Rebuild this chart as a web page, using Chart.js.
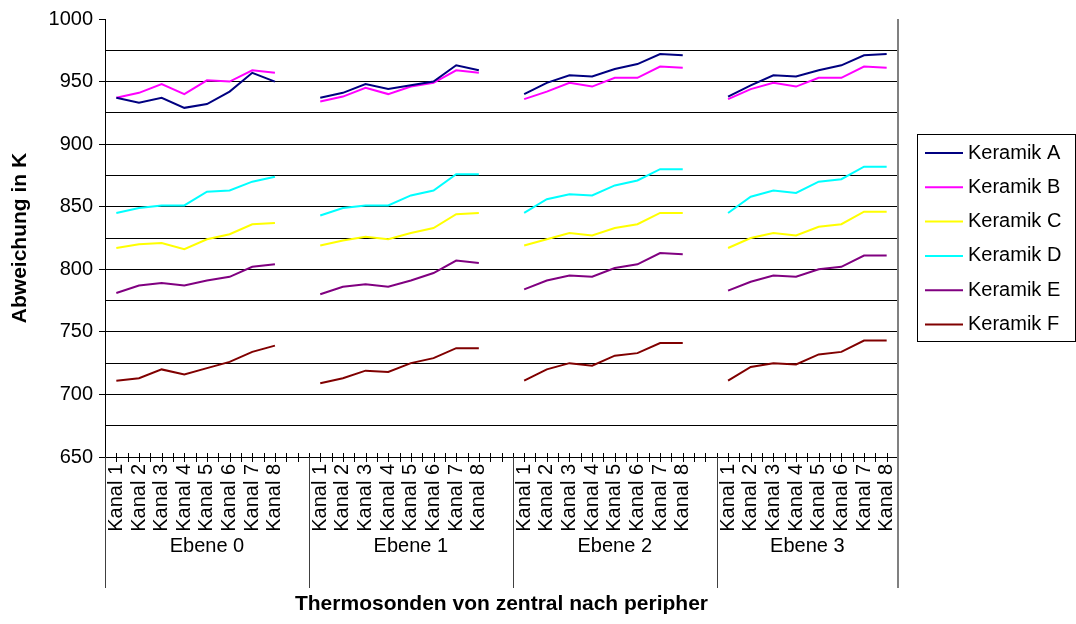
<!DOCTYPE html>
<html>
<head>
<meta charset="utf-8">
<script src="https://cdn.jsdelivr.net/npm/chart.js@4/dist/chart.umd.min.js"></script>
<style>
	body { margin: 0; background: #fff; }
	canvas { display: block; }
</style>
</head>
<body>
<canvas id="canvas" width="1076" height="624"></canvas>
<script>
var groups = ['Ebene 0', 'Ebene 1', 'Ebene 2', 'Ebene 3'];
var channels = ['Kanal 1', 'Kanal 2', 'Kanal 3', 'Kanal 4', 'Kanal 5', 'Kanal 6', 'Kanal 7', 'Kanal 8'];
var yTicks = [650, 700, 750, 800, 850, 900, 950, 1000];

// 8 values per Ebene, Ebene 0..3
var keramikA = [937, 933, 937, 929, 932, 942, 957, 950,
	937, 941, 948, 944, 947, 950, 963, 959,
	940, 949, 955, 954, 960, 964, 972, 971,
	938, 947, 955, 954, 959, 963, 971, 972];
var keramikB = [937, 941, 948, 940, 951, 950, 959, 957,
	934, 938, 945, 940, 946, 949, 959, 957,
	936, 942, 949, 946, 953, 953, 962, 961,
	936, 944, 949, 946, 953, 953, 962, 961];
var keramikC = [817, 820, 821, 816, 824, 828, 836, 837,
	819, 823, 826, 824, 829, 833, 844, 845,
	819, 824, 829, 827, 833, 836, 845, 845,
	817, 825, 829, 827, 834, 836, 846, 846];
var keramikD = [845, 849, 851, 851, 862, 863, 870, 874,
	843, 849, 851, 851, 859, 863, 876, 876,
	845, 856, 860, 859, 867, 871, 880, 880,
	845, 858, 863, 861, 870, 872, 882, 882];
var keramikE = [781, 787, 789, 787, 791, 794, 802, 804,
	780, 786, 788, 786, 791, 797, 807, 805,
	784, 791, 795, 794, 801, 804, 813, 812,
	783, 790, 795, 794, 800, 802, 811, 811];
var keramikF = [711, 713, 720, 716, 721, 726, 734, 739,
	709, 713, 719, 718, 725, 729, 737, 737,
	711, 720, 725, 723, 731, 733, 741, 741,
	711, 722, 725, 724, 732, 734, 743, 743];

var seriesNames = ['Keramik A', 'Keramik B', 'Keramik C', 'Keramik D', 'Keramik E', 'Keramik F'];
var seriesColors = ['#000080', '#ff00ff', '#ffff00', '#00ffff', '#800080', '#800000'];

// one empty slot between the Ebenen, like the excel sheet
var labels = [];
var groupStart = [];
for (var g = 0; g < groups.length; g++) {
	groupStart.push(labels.length);
	for (var c = 0; c < channels.length; c++) labels.push(channels[c]);
	if (g < groups.length - 1) labels.push('');
}
groupStart.push(labels.length);

function spread(values) {
	var out = [];
	for (var g = 0; g < groups.length; g++) {
		for (var c = 0; c < channels.length; c++) out.push(values[g * channels.length + c]);
		if (g < groups.length - 1) out.push(null);
	}
	return out;
}

var allValues = [keramikA, keramikB, keramikC, keramikD, keramikE, keramikF];
var datasets = [];
for (var i = 0; i < seriesNames.length; i++) {
	datasets.push({
		label: seriesNames[i],
		data: spread(allValues[i]),
		borderColor: seriesColors[i],
		backgroundColor: seriesColors[i],
		borderWidth: 2,
		pointRadius: 0,
		tension: 0,
		spanGaps: false
	});
}

var font = 'Liberation Sans, Arial, sans-serif';

var axisDeco = {
	id: 'axisDeco',
	afterDraw: function(chart) {
		var ctx = chart.ctx;
		var a = chart.chartArea;
		var xs = chart.scales.x;
		var slot = xs.getPixelForValue(1) - xs.getPixelForValue(0);
		var bottomLine = 588;
		ctx.save();

		// tick marks crossing the x axis
		ctx.strokeStyle = '#000';
		ctx.lineWidth = 1;
		ctx.beginPath();
		for (var k = 0; k <= labels.length * 2; k++) {
			var px = Math.round(a.left + k * slot / 2) + 0.5;
			ctx.moveTo(px, a.bottom - 4);
			ctx.lineTo(px, a.bottom + 5);
		}
		ctx.stroke();

		// right frame
		ctx.strokeStyle = '#808080';
		ctx.lineWidth = 2;
		ctx.beginPath();
		ctx.moveTo(a.right, a.top);
		ctx.lineTo(a.right, bottomLine);
		ctx.stroke();

		// group dividers and Ebene labels
		ctx.strokeStyle = '#404040';
		ctx.lineWidth = 1;
		ctx.fillStyle = '#000';
		ctx.font = '20px ' + font;
		ctx.textAlign = 'center';
		ctx.textBaseline = 'middle';
		for (var g = 0; g < groups.length; g++) {
			var x0 = xs.getPixelForValue(groupStart[g]) - slot / 2;
			var x1 = xs.getPixelForValue(groupStart[g + 1] - 1) + slot / 2;
			ctx.beginPath();
			ctx.moveTo(Math.round(x0) + 0.5, a.bottom);
			ctx.lineTo(Math.round(x0) + 0.5, bottomLine);
			ctx.stroke();
			ctx.fillText(groups[g], (x0 + x1) / 2, 546);
		}

		// legend
		var lx = 917, ly = 134, lw = 158, lh = 207;
		ctx.strokeStyle = '#000';
		ctx.lineWidth = 1;
		ctx.strokeRect(lx + 0.5, ly + 0.5, lw, lh);
		ctx.textAlign = 'left';
		chart.data.datasets.forEach(function(ds, i) {
			var y = 153 + i * 34.3;
			ctx.strokeStyle = ds.borderColor;
			ctx.lineWidth = 2;
			ctx.beginPath();
			ctx.moveTo(925, y);
			ctx.lineTo(963, y);
			ctx.stroke();
			ctx.fillStyle = '#000';
			ctx.fillText(ds.label, 968, y);
		});
		ctx.restore();
	}
};

var ctx = document.getElementById('canvas').getContext('2d');
var config = {
	type: 'line',
	data: {
		labels: labels,
		datasets: datasets
	},
	options: {
		responsive: false,
		animation: false,
		layout: {
			padding: { left: 0, top: 19, right: 178, bottom: 0 }
		},
		plugins: {
			legend: { display: false },
			tooltip: { enabled: false }
		},
		scales: {
			x: {
				type: 'category',
				offset: true,
				afterFit: function(scale) { scale.height = 167; },
				grid: { display: true, drawOnChartArea: false, drawTicks: false },
				border: { display: true, color: '#000', width: 1 },
				ticks: {
					autoSkip: false,
					minRotation: 90,
					maxRotation: 90,
					padding: 7,
					color: '#000',
					font: { family: font, size: 20 }
				},
				title: {
					display: true,
					text: 'Thermosonden von zentral nach peripher',
					color: '#000',
					padding: { top: 0, bottom: 7 },
					font: { family: font, size: 21, weight: 'bold' }
				}
			},
			y: {
				min: 650,
				max: 1000,
				afterFit: function(scale) { scale.width = 105; },
				afterBuildTicks: function(scale) {
					var t = [];
					for (var v = 650; v <= 1000; v += 25) t.push({ value: v });
					scale.ticks = t;
				},
				grid: {
					color: function(c) { return c.tick && c.tick.value === 1000 ? 'rgba(0,0,0,0)' : '#000'; },
					lineWidth: 1,
					tickLength: 6,
					tickColor: function(c) { return c.tick && yTicks.indexOf(c.tick.value) >= 0 ? '#000' : 'rgba(0,0,0,0)'; }
				},
				border: { display: true, color: '#000', width: 1 },
				ticks: {
					padding: 6,
					color: '#000',
					font: { family: font, size: 20 },
					callback: function(v) { return yTicks.indexOf(v) >= 0 ? v : ''; }
				},
				title: {
					display: true,
					text: 'Abweichung in K',
					color: '#000',
					padding: { top: 8, bottom: 0 },
					font: { family: font, size: 21, weight: 'bold' }
				}
			}
		}
	},
	plugins: [axisDeco]
};
window.myLine = new Chart(ctx, config);
</script>
</body>
</html>
